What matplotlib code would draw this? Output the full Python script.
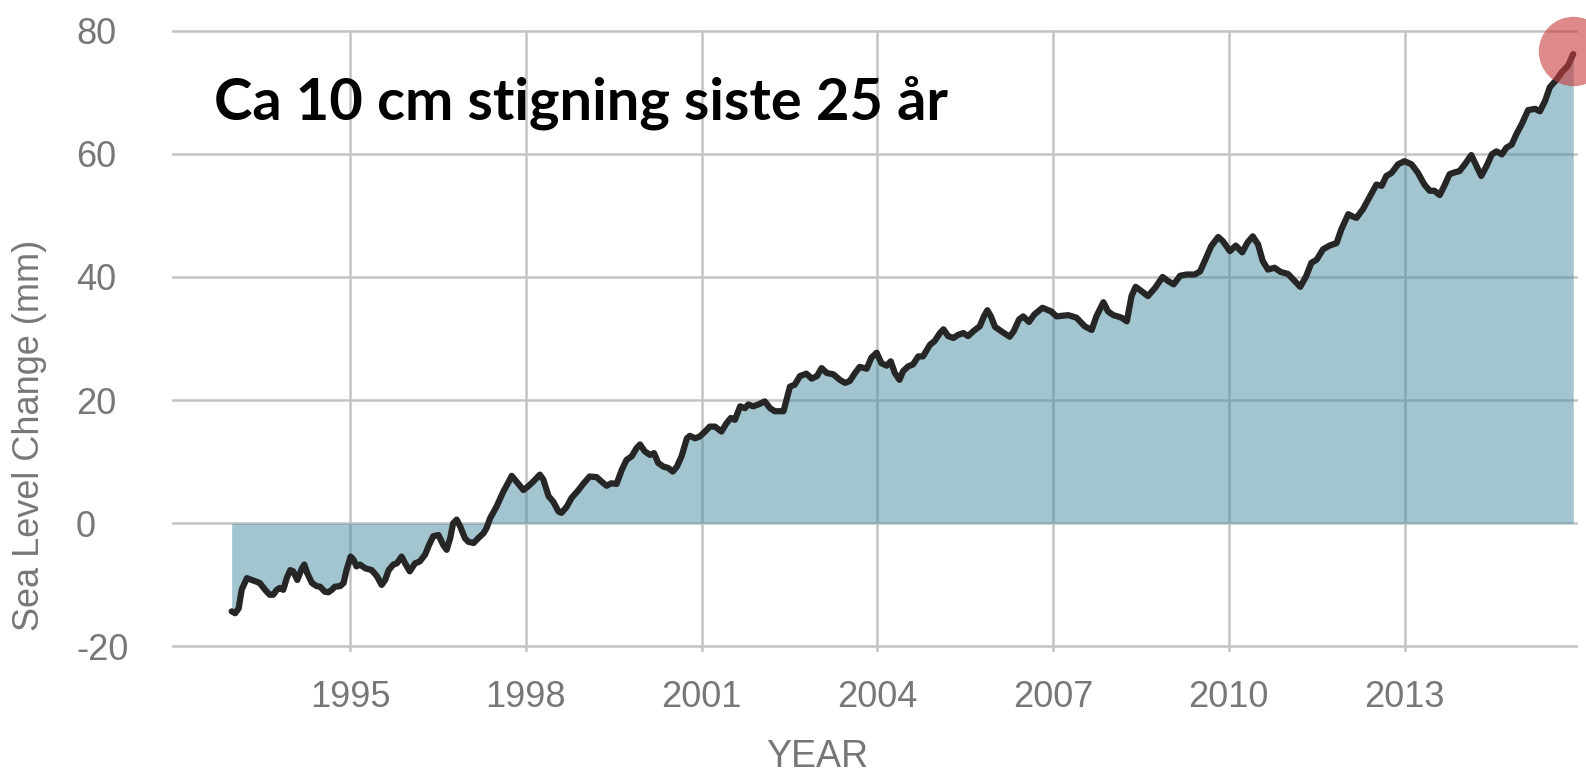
import matplotlib
matplotlib.use("Agg")
import matplotlib.pyplot as plt

plt.rcParams['font.family'] = ['Liberation Sans', 'DejaVu Sans']
plt.rcParams['axes.unicode_minus'] = False

# ------------------------------
# DATA
# ------------------------------
years = [
    1992.98, 1993.04, 1993.10, 1993.15, 1993.24, 1993.32, 1993.41, 1993.46,
    1993.55, 1993.63, 1993.69, 1993.75, 1993.80, 1993.86, 1993.92, 1993.98,
    1994.03, 1994.10, 1994.18, 1994.22, 1994.27, 1994.35, 1994.43, 1994.49,
    1994.57, 1994.63, 1994.69, 1994.74, 1994.83, 1994.89, 1994.94, 1995.01,
    1995.06, 1995.11, 1995.17, 1995.26, 1995.37, 1995.46, 1995.54, 1995.60,
    1995.66, 1995.74, 1995.80, 1995.88, 1995.94, 1996.02, 1996.11, 1996.19,
    1996.28, 1996.35, 1996.42, 1996.51, 1996.59, 1996.65, 1996.71, 1996.76,
    1996.82, 1996.88, 1996.96, 1997.02, 1997.11, 1997.19, 1997.28, 1997.33,
    1997.39, 1997.50, 1997.62, 1997.70,
    1997.76, 1997.84, 1997.96, 1998.04, 1998.13, 1998.24, 1998.30, 1998.39,
    1998.47, 1998.56, 1998.61, 1998.70, 1998.78, 1998.90, 1998.98, 1999.09,
    1999.21, 1999.29, 1999.38, 1999.46, 1999.55, 1999.64, 1999.72, 1999.81,
    1999.89, 1999.95, 2000.03, 2000.12, 2000.19, 2000.26, 2000.35, 2000.43,
    2000.51, 2000.58, 2000.66, 2000.75, 2000.80, 2000.89, 2000.97, 2001.06,
    2001.14, 2001.23, 2001.34, 2001.43, 2001.50, 2001.57, 2001.66, 2001.74,
    2001.80, 2001.88, 2001.97, 2002.08, 2002.17, 2002.25, 2002.40,
    2002.51, 2002.59, 2002.68, 2002.79, 2002.88, 2002.97, 2003.05, 2003.14,
    2003.25, 2003.36, 2003.45, 2003.53, 2003.62, 2003.70, 2003.82, 2003.90,
    2003.99, 2004.07, 2004.16, 2004.23, 2004.30, 2004.38, 2004.44, 2004.53,
    2004.61, 2004.70, 2004.78, 2004.90, 2004.98, 2005.07, 2005.13, 2005.21,
    2005.30, 2005.38, 2005.47, 2005.55, 2005.64, 2005.75, 2005.82, 2005.88,
    2005.94, 2006.01, 2006.13, 2006.26, 2006.33, 2006.42, 2006.49, 2006.59,
    2006.68, 2006.82, 2006.97, 2007.06, 2007.26, 2007.40, 2007.54, 2007.66,
    2007.74, 2007.86, 2007.94, 2008.03, 2008.17, 2008.26, 2008.34, 2008.41,
    2008.51, 2008.62, 2008.74, 2008.87, 2008.97, 2009.06, 2009.17, 2009.28,
    2009.42, 2009.51, 2009.59, 2009.70, 2009.82, 2009.90, 2010.02, 2010.12,
    2010.23, 2010.32, 2010.41, 2010.50, 2010.58, 2010.67, 2010.78, 2010.89,
    2011.01, 2011.13, 2011.22, 2011.32, 2011.41, 2011.50, 2011.61, 2011.72,
    2011.84, 2011.92, 2012.04, 2012.12, 2012.18, 2012.29, 2012.41, 2012.52,
    2012.61, 2012.69, 2012.78, 2012.89, 2013.00, 2013.12, 2013.23, 2013.34,
    2013.43, 2013.51, 2013.60, 2013.68, 2013.77, 2013.86, 2013.94, 2014.03,
    2014.14, 2014.23, 2014.31, 2014.40, 2014.49, 2014.57, 2014.66, 2014.74,
    2014.83, 2014.91, 2015.00, 2015.11, 2015.23, 2015.31, 2015.40, 2015.48,
    2015.60, 2015.68, 2015.79, 2015.88,
]
sea_level = [
    -14.3, -14.6, -13.8, -10.8, -8.9, -9.2, -9.5, -9.7,
    -10.8, -11.6, -11.6, -10.8, -10.5, -10.8, -8.9, -7.6,
    -7.8, -9.2, -7.3, -6.7, -8.1, -9.7, -10.2, -10.3,
    -11.1, -11.2, -10.8, -10.3, -10.2, -9.7, -7.6, -5.4,
    -5.9, -7.0, -6.7, -7.3, -7.6, -8.6, -10.0, -9.2,
    -7.6, -6.7, -6.5, -5.4, -6.5, -7.8, -6.5, -6.2,
    -5.1, -3.5, -2.1, -1.9, -3.5, -4.3, -2.4, 0.0,
    0.6, -0.5, -2.4, -3.0, -3.2, -2.4, -1.6, -0.8,
    0.8, 2.7, 5.2, 6.6,
    7.7, 6.8, 5.4, 6.0, 6.8, 7.9, 7.1, 4.4,
    3.5, 1.9, 1.7, 2.7, 4.1, 5.4, 6.4, 7.6,
    7.5, 6.8, 6.1, 6.5, 6.4, 8.7, 10.3, 10.9,
    12.2, 12.8, 11.7, 11.1, 11.4, 9.8, 9.2, 9.0,
    8.4, 9.2, 10.9, 13.8, 14.2, 13.8, 14.1, 14.9,
    15.7, 15.7, 14.9, 16.3, 17.1, 16.8, 19.0, 18.7,
    19.3, 19.0, 19.3, 19.8, 18.7, 18.2, 18.2,
    22.2, 22.5, 23.9, 24.3, 23.5, 23.9, 25.2, 24.4,
    24.2, 23.3, 22.8, 23.1, 24.4, 25.4, 25.1, 26.9,
    27.7, 26.0, 25.6, 26.3, 24.4, 23.3, 24.7, 25.5,
    25.8, 27.1, 27.1, 29.0, 29.6, 30.9, 31.5, 30.4,
    30.1, 30.6, 30.9, 30.4, 31.2, 32.0, 33.6, 34.6,
    33.6, 31.9, 31.1, 30.3, 31.2, 33.1, 33.6, 32.7,
    33.9, 35.0, 34.4, 33.6, 33.8, 33.4, 32.0, 31.4,
    33.6, 35.9, 34.4, 33.8, 33.4, 32.8, 36.9, 38.4,
    37.7, 36.9, 38.2, 40.0, 39.3, 38.8, 40.2, 40.4,
    40.4, 40.9, 42.6, 45.0, 46.5, 45.8, 44.2, 45.1,
    44.0, 45.6, 46.6, 45.3, 42.6, 41.2, 41.5, 40.8,
    40.5, 39.3, 38.4, 40.1, 42.3, 42.8, 44.5, 45.1,
    45.5, 47.7, 50.2, 49.8, 49.6, 51.0, 53.1, 55.0,
    54.8, 56.4, 56.9, 58.3, 58.8, 58.3, 56.9, 55.0,
    54.0, 54.0, 53.3, 54.8, 56.7, 57.0, 57.2, 58.3,
    59.8, 58.0, 56.4, 58.0, 59.9, 60.4, 59.9, 61.0,
    61.5, 63.2, 64.8, 67.1, 67.3, 66.9, 68.6, 70.8,
    72.1, 73.2, 74.3, 76.2,
]

x_ticks = [1995, 1998, 2001, 2004, 2007, 2010, 2013]
y_ticks = [-20, 0, 20, 40, 60, 80]
title_text = "Ca 10 cm stigning siste 25 år"

# ------------------------------
# PLOT
# ------------------------------
fig = plt.figure(figsize=(15.86, 7.74), dpi=100)
ax = fig.add_axes([0.1084, 0.1576, 0.8865, 0.8036])

grey_txt = '#777777'
ax.fill_between(years, sea_level, 0, color='#468ca0', alpha=0.5, linewidth=0, zorder=2)
ax.plot(years, sea_level, color='#262626', linewidth=4.5, solid_capstyle='round',
        solid_joinstyle='round', zorder=3)
ax.scatter([years[-1]], [sea_level[-1] + 0.5], s=2500, color='#c83c3c', alpha=0.6,
           linewidths=0, zorder=4, clip_on=False)

ax.set_xlim(1991.96, 2015.96)
ax.set_ylim(-20.9, 80.1)
ax.set_xticks(x_ticks)
ax.set_xticklabels([str(t) for t in x_ticks])
ax.set_yticks(y_ticks)
ax.set_yticklabels([str(t) for t in y_ticks])

ax.grid(True, color='#c4c4c4', linewidth=1.8)
ax.set_axisbelow(True)
for s in ax.spines.values():
    s.set_visible(False)

ax.tick_params(axis='x', length=0, pad=20, labelsize=26, labelcolor=grey_txt)
ax.tick_params(axis='y', length=0, pad=69, labelsize=26, labelcolor=grey_txt)
for lab in ax.get_yticklabels():
    lab.set_horizontalalignment('left')

fig.text(817 / 1586, 1 - 757 / 774, "YEAR", ha='center', va='center',
         fontsize=27, color=grey_txt)
fig.text(30 / 1586, 1 - 435 / 774, "Sea Level Change (mm)", rotation=90,
         ha='center', va='center', fontsize=26, color=grey_txt)

fig.text(214 / 1586, 1 - 120 / 774, title_text, ha='left', va='baseline',
         fontsize=41.7, fontweight='bold', color='black', family=['Lato', 'DejaVu Sans'])

fig.savefig('out.png', dpi=100)
